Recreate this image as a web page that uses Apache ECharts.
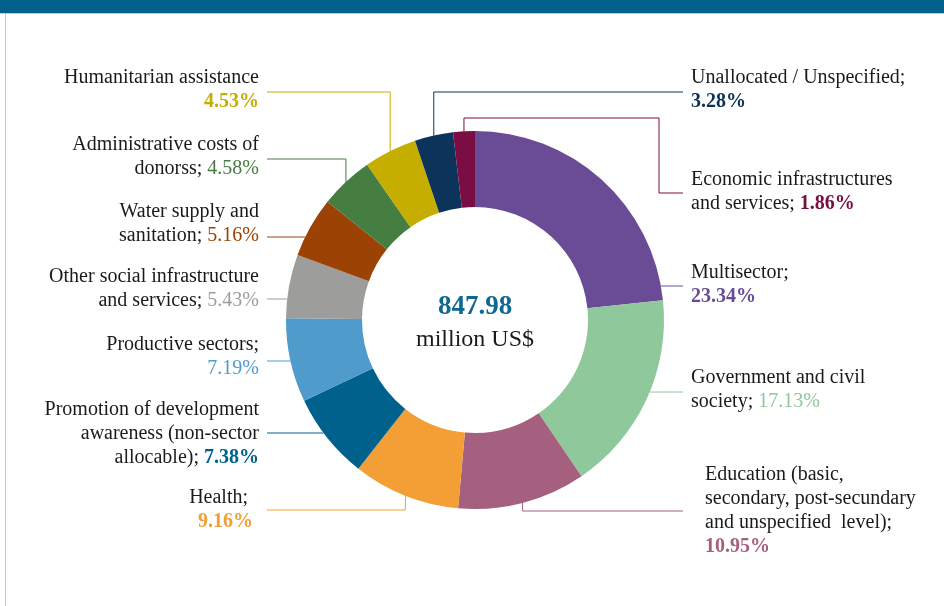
<!DOCTYPE html>
<html>
<head>
<meta charset="utf-8">
<script src="https://cdn.jsdelivr.net/npm/echarts@6/dist/echarts.min.js"></script>
<style>
html,body{margin:0;padding:0;background:#fff;}
#c{width:944px;height:606px;}
</style>
</head>
<body>
<div id="c"></div>
<script>
// ---- data ----
const categories = [
  'Multisector',
  'Government and civil society',
  'Education (basic, secondary, post-secundary and unspecified level)',
  'Health',
  'Promotion of development awareness (non-sector allocable)',
  'Productive sectors',
  'Other social infrastructure and services',
  'Water supply and sanitation',
  'Administrative costs of donorss',
  'Humanitarian assistance',
  'Unallocated / Unspecified',
  'Economic infrastructures and services'
];
const shares = [23.34, 17.13, 10.95, 9.16, 7.38, 7.19, 5.43, 5.16, 4.58, 4.53, 3.28, 1.86];
const labelTexts = [
  'Multisector;\n',
  'Government and civil\nsociety; ',
  'Education (basic,\nsecondary, post-secundary\nand unspecified  level);\n',
  'Health; \n',
  'Promotion of development\nawareness (non-sector\nallocable); ',
  'Productive sectors;\n',
  'Other social infrastructure\nand services; ',
  'Water supply and\nsanitation; ',
  'Administrative costs of\ndonorss; ',
  'Humanitarian assistance\n',
  'Unallocated / Unspecified;\n',
  'Economic infrastructures\nand services; '
];
const totalValue = '847.98';
const totalUnit = 'million US$';

// ---- styles ----
const colors = ['#6a4c96','#8fc89b','#a5607f','#f39f35','#00628c','#4e9bcc','#9d9d9c','#9b4204','#467d41','#c5ae00','#0c3359','#7a0e44'];
const pctBold = [true,false,true,true,true,false,false,false,false,true,true,true];
const FONT = '"Liberation Serif", "Times New Roman", serif';
const FS = 20, LH = 24;
const CX = 475, CY = 320, R_IN = 113, R_OUT = 189;

// label layout (positions only)
const labelLayoutCfg = [
  {side:'r', x:691, y:261, lineY:286},
  {side:'r', x:691, y:366, lineY:392},
  {side:'r', x:705, y:463, lineY:511, elbow:true},
  {side:'l', x:253, y:486, lineY:510, elbow:true},
  {side:'l', x:259, y:398, lineY:433},
  {side:'l', x:259, y:333, lineY:361},
  {side:'l', x:259, y:265, lineY:299},
  {side:'l', x:259, y:200, lineY:237},
  {side:'l', x:259, y:133, lineY:159, elbow:true},
  {side:'l', x:259, y:66, lineY:92, elbow:true},
  {side:'r', x:691, y:66, lineY:92, elbow:true},
  {side:'r', x:691, y:168, lineY:193, elbow:true, detourY:118, detourX:659}
];
const LINE_END_L = 267, LINE_END_R = 683;

const rich = { a: {color:'#1a1a1a', fontSize:FS, lineHeight:LH, fontFamily:FONT} };
colors.forEach((c,i)=>{
  rich['p'+i] = {color:c, fontSize:FS, lineHeight:LH, fontFamily:FONT, fontWeight: pctBold[i] ? 'bold' : 'normal'};
});

const data = categories.map((n,i)=>({
  name:n, value:shares[i],
  itemStyle:{color:colors[i]},
  labelLine:{lineStyle:{color:colors[i], width:1, opacity:1}}
}));

const chart = echarts.init(document.getElementById('c'), null, {renderer:'canvas'});
chart.setOption({
  animation:false,
  backgroundColor:'#fff',
  graphic:[
    {type:'rect', shape:{x:0,y:0,width:944,height:13}, style:{fill:'#00628c'}, silent:true},
    {type:'line', shape:{x1:0,y1:13.5,x2:944,y2:13.5}, style:{stroke:'#a9d2e8', lineWidth:1}, silent:true},
    {type:'line', shape:{x1:5.5,y1:13,x2:5.5,y2:606}, style:{stroke:'#a9d2e8', lineWidth:1}, silent:true},
    {type:'text', x:CX, y:307, style:{text:totalValue, fill:'#0e6890', font:'bold 27px '+FONT, align:'center', verticalAlign:'middle'}},
    {type:'text', x:CX, y:340, style:{text:totalUnit, fill:'#1a1a1a', font:'24px '+FONT, align:'center', verticalAlign:'middle'}}
  ],
  series:[{
    type:'pie',
    center:[CX, CY],
    radius:[R_IN, R_OUT],
    startAngle:90,
    clockwise:true,
    avoidLabelOverlap:false,
    data:data,
    label:{
      show:true,
      position:'outside',
      formatter:(p)=>'{a|'+labelTexts[p.dataIndex]+'}{p'+p.dataIndex+'|'+p.value.toFixed(2)+'%}',
      rich:rich
    },
    labelLine:{show:true, length:10, length2:10},
    labelLayout:function(params){
      const i = params.dataIndex;
      const cfg = labelLayoutCfg[i];
      const p0 = params.labelLinePoints ? params.labelLinePoints[0] : [CX, CY];
      const endX = cfg.side === 'l' ? LINE_END_L : LINE_END_R;
      let pts;
      if (cfg.detourY != null) {
        pts = [[p0[0], p0[1]], [p0[0], cfg.detourY], [cfg.detourX, cfg.detourY], [cfg.detourX, cfg.lineY], [endX, cfg.lineY]];
      } else if (cfg.elbow) {
        pts = [[p0[0], p0[1]], [p0[0], cfg.lineY], [endX, cfg.lineY]];
      } else {
        const dy = cfg.lineY - CY;
        const dx = Math.sqrt(Math.max(0, R_OUT*R_OUT - dy*dy));
        const sx = cfg.side === 'l' ? CX - dx : CX + dx;
        pts = [[sx, cfg.lineY], [endX, cfg.lineY]];
      }
      return {
        x: cfg.x, y: cfg.y,
        align: cfg.side === 'l' ? 'right' : 'left',
        verticalAlign: 'top',
        labelLinePoints: pts
      };
    }
  }]
});
</script>
</body>
</html>
